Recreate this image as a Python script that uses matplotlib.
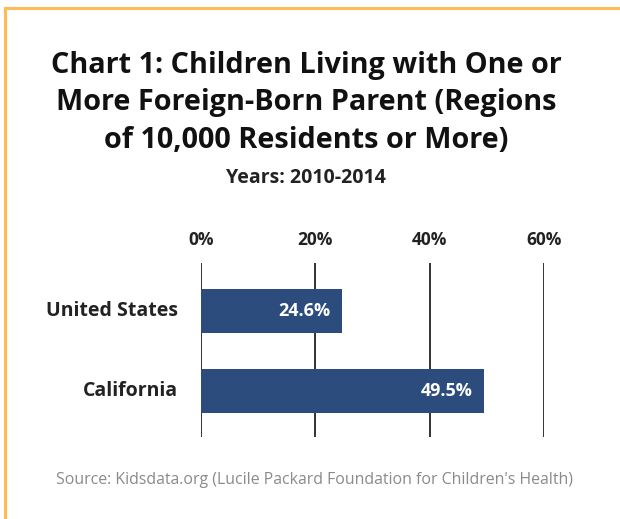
import matplotlib
matplotlib.use("Agg")
import matplotlib.pyplot as plt
from matplotlib.lines import Line2D

categories = ["United States", "California"]
values = [24.6, 49.5]
xticks = [0, 20, 40, 60]
xtick_labels = ["0%", "20%", "40%", "60%"]

title_lines = ["Chart 1: Children Living with One or",
               "More Foreign-Born Parent (Regions",
               "of 10,000 Residents or More)"]
subtitle = "Years: 2010-2014"
source = "Source: Kidsdata.org (Lucile Packard Foundation for Children's Health)"

FONT = "Open Sans"
W, H = 620, 519
fig = plt.figure(figsize=(W / 100, H / 100), dpi=100)
fig.patch.set_facecolor("white")

# border (top + left)
border_color = "#fbbd56"
fig.add_artist(Line2D([4.5 / W, 1], [1 - 8 / H, 1 - 8 / H], color=border_color, lw=2.2, transform=fig.transFigure))
fig.add_artist(Line2D([4.5 / W, 4.5 / W], [0, 1 - 8 / H], color=border_color, lw=2.2, transform=fig.transFigure))

ax = fig.add_axes([201 / W, 1 - 437 / H, (544 - 201) / W, (437 - 263) / H])
ypos = list(range(len(categories)))
bars = ax.barh(ypos, values, height=0.55, color="#2c4c7e", zorder=3)
ax.set_xlim(0, 60)
ax.set_ylim(1.575, -0.6)
for x in xticks:
    ax.axvline(x, color="#333333", lw=1.4, zorder=2)
for s in ax.spines.values():
    s.set_visible(False)
ax.set_yticks([])
ax.set_xticks([])

for x, lab in zip(xticks, xtick_labels):
    ax.text(x, -0.6 - 23 / 80, lab, ha="center", va="center", fontsize=12.5, fontweight="bold",
            color="#222222", family=FONT)
for y, c in zip(ypos, categories):
    ax.text(-23 / 5.717, y, c, ha="right", va="center", fontsize=14, fontweight="bold",
            color="#222222", family=FONT)
for y, v in zip(ypos, values):
    ax.text(v - 1.9, y, f"{v}%", ha="right", va="center", fontsize=13, fontweight="bold",
            color="white", family=FONT, zorder=4)

for i, line in enumerate(title_lines):
    fig.text(306 / W, 1 - (65 + 37.5 * i) / H, line, ha="center", va="center", fontsize=20.8,
             fontweight="bold", color="#111111", family=FONT)
fig.text(306 / W, 1 - 178 / H, subtitle, ha="center", va="center", fontsize=14,
         fontweight="bold", color="#222222", family=FONT)
fig.text(315 / W, 1 - 480 / H, source, ha="center", va="center", fontsize=11.4,
         color="#8a8a8a", family=FONT)

fig.savefig("out.png", dpi=100)
